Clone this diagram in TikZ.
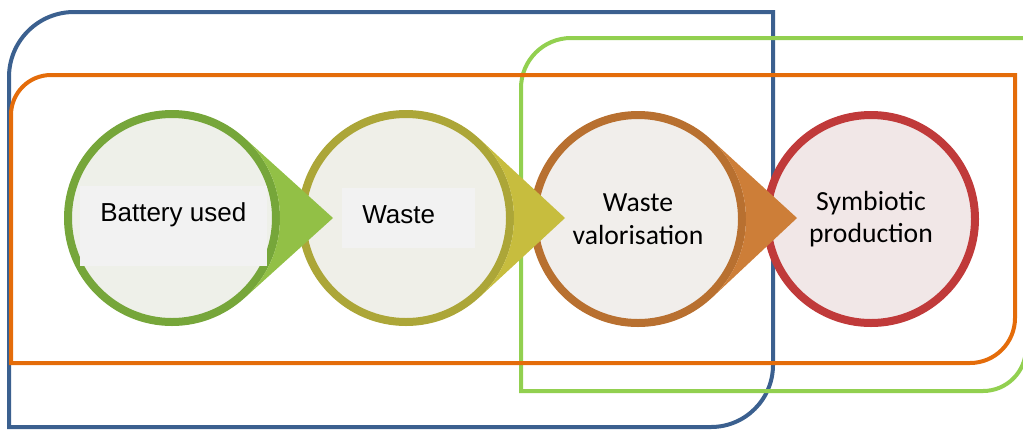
\documentclass[tikz,border=0pt]{standalone}
\usepackage{fontspec}
\setmainfont{Liberation Sans}
\newfontfamily\calibri{Carlito}

\definecolor{frameblue}{RGB}{59,96,143}
\definecolor{frameorange}{RGB}{228,108,10}
\definecolor{framegreen}{RGB}{146,208,80}
\definecolor{ringgreen}{RGB}{118,166,58}
\definecolor{tipgreen}{RGB}{146,192,70}
\definecolor{fillgreen}{RGB}{238,240,233}
\definecolor{ringolive}{RGB}{172,166,56}
\definecolor{tipolive}{RGB}{199,189,62}
\definecolor{fillolive}{RGB}{239,239,232}
\definecolor{ringbrown}{RGB}{184,112,48}
\definecolor{tipbrown}{RGB}{205,126,56}
\definecolor{fillbrown}{RGB}{241,238,235}
\definecolor{ringred}{RGB}{192,58,58}
\definecolor{fillred}{RGB}{241,231,231}
\definecolor{boxgrey}{RGB}{242,242,242}

\tikzset{
  frame/.style={line width=3pt},
  stepdisc/.style={circle, minimum size=156pt, line width=6pt, inner sep=0pt},
  labelbox/.style={fill=boxgrey, inner sep=0pt, anchor=north west},
  robolabel/.style={anchor=base west, inner sep=0pt, font=\fontsize{19.5}{23}\selectfont},
  calilabel/.style={align=center, font=\calibri\fontsize{20.75}{24.5}\selectfont},
}

\begin{document}
\begin{tikzpicture}[x=0.75pt,y=0.75pt,yscale=-1,xscale=1]
\useasboundingbox (0,0) rectangle (1023,429);
% frames, drawn first so that the circles cover them (y runs down, so arc angles run clockwise)
\draw[frame, frameblue] (9,427) -- (9,77) arc[start angle=180, end angle=270, radius=48.75pt]
  -- (773,12) -- (773,365) arc[start angle=0, end angle=90, radius=46.5pt] -- cycle;
\draw[frame, framegreen] (521,391) -- (521,88) arc[start angle=180, end angle=270, radius=37.5pt]
  -- (1026,38) -- (1026,348) arc[start angle=0, end angle=90, radius=32.25pt] -- cycle;
\draw[frame, frameorange] (11,363) -- (11,115) arc[start angle=180, end angle=270, radius=30pt]
  -- (1015,75) -- (1015,318) arc[start angle=0, end angle=90, radius=33.75pt] -- cycle;

% steps, right to left: each tip lies over the next circle
\node[stepdisc, draw=ringred, fill=fillred, calilabel] (prod) at (871,219) {Symbiotic\\production};

\node[stepdisc, draw=ringbrown, fill=fillbrown, calilabel] (valor) at (638,219) {Waste\\valorisation};
\coordinate (valortip) at (797,218);
\fill[tipbrown] (valor.-47) arc[start angle=47, end angle=-47, radius=81pt] -- (valortip) -- cycle;

\node[stepdisc, draw=ringolive, fill=fillolive] (waste) at (406,218) {};
\coordinate (wastetip) at (565,218);
\fill[tipolive] (waste.-47) arc[start angle=47, end angle=-47, radius=81pt] -- (wastetip) -- cycle;

\node[stepdisc, draw=ringgreen, fill=fillgreen] (used) at (172,218) {};
\coordinate (usedtip) at (333,218);
\fill[tipgreen] (used.-47) arc[start angle=47, end angle=-47, radius=81pt] -- (usedtip) -- cycle;

% grey label boxes
\node[labelbox, minimum width=140.25pt, minimum height=60pt] (usedbox) at (80,186) {};
\node[robolabel] (usedtxt) at (100,221) {Battery used};
\node[labelbox, minimum width=99.75pt, minimum height=45pt] (wastebox) at (342,188) {};
\node[robolabel] (wastetxt) at (362,223) {Waste};
\end{tikzpicture}
\end{document}
